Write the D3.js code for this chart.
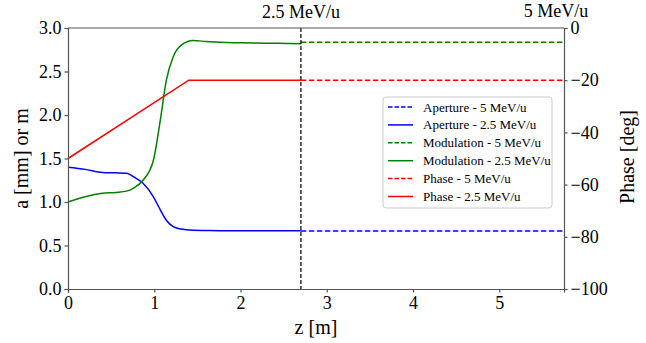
<!DOCTYPE html>
<html lang='en'>
<head>
  <meta charset='UTF-8'>
  <title>Aperture / Modulation / Phase</title>
  <style>
    body { margin: 0; background: #fff; }
    svg text { font-family: 'Liberation Serif', 'Times New Roman', serif !important; }
  </style>
</head>
<body>
  <script src='https://cdn.jsdelivr.net/npm/d3@7/dist/d3.min.js'></script>
  <script>
// data
const zSolid = [0, 0.2, 0.4, 0.55, 0.68, 0.76, 0.87, 0.99, 1.07, 1.14, 1.22, 1.31, 1.45, 1.6, 1.76, 2.0, 2.3, 2.7];
const modulation25 = [1.0, 1.06, 1.10, 1.11, 1.125, 1.16, 1.25, 1.48, 1.94, 2.40, 2.67, 2.80, 2.855, 2.845, 2.835, 2.83, 2.825, 2.82];
const aperture25 = [1.40, 1.375, 1.34, 1.335, 1.33, 1.29, 1.215, 1.06, 0.91, 0.79, 0.716, 0.69, 0.675, 0.672, 0.67, 0.67, 0.67, 0.67];
const zPhase = [0, 1.4, 2.7];
const phase25 = [-50, -20, -20];

const zDashed = [2.7, 5.75];
const aperture5 = [0.667, 0.667];
const modulation5 = [2.835, 2.835];
const phase5 = [-20, -20];

const zSplit = 2.7;
const xTicks = [0, 1, 2, 3, 4, 5];
const yTicks = [0, 0.5, 1.0, 1.5, 2.0, 2.5, 3.0];
const phaseTicks = [0, -20, -40, -60, -80, -100];

const legendLabels = ['Aperture - 5 MeV/u', 'Aperture - 2.5 MeV/u', 'Modulation - 5 MeV/u',
                      'Modulation - 2.5 MeV/u', 'Phase - 5 MeV/u', 'Phase - 2.5 MeV/u'];
const legendColors = ['blue', 'blue', 'green', 'green', 'red', 'red'];
const legendDashed = [true, false, true, false, true, false];

const width = 646, height = 343;
const mLeft = 68, mRight = 564, mTop = 28, mBottom = 289;
const axisColor = '#555';
const serif = "'Liberation Serif', 'Times New Roman', serif";

const svg = d3.select('body').append('svg')
    .attr('width', width)
    .attr('height', height);

const x = d3.scaleLinear().domain([0, 5.75]).range([mLeft, mRight]);
const y = d3.scaleLinear().domain([0, 3]).range([mBottom, mTop]);
const yPhase = d3.scaleLinear().domain([-100, 0]).range([mBottom, mTop]);

// lines
const line = (ys, sc, curve) => d3.line()
    .x(d => x(d))
    .y((d, i) => sc(ys[i]))
    .curve(curve);

function drawLine(zs, ys, sc, color, dashed, curve) {
  svg.append('path')
      .attr('d', line(ys, sc, curve || d3.curveLinear)(zs))
      .attr('fill', 'none')
      .attr('stroke', color)
      .attr('stroke-width', 1.5)
      .attr('stroke-dasharray', dashed ? '5.5,2.5' : null);
}

drawLine(zDashed, aperture5, y, 'blue', true);
drawLine(zSolid, aperture25, y, 'blue', false, d3.curveMonotoneX);
drawLine(zDashed, modulation5, y, 'green', true);
drawLine(zSolid, modulation25, y, 'green', false, d3.curveMonotoneX);
drawLine(zDashed, phase5, yPhase, 'red', true);
drawLine(zPhase, phase25, yPhase, 'red', false);

// vertical split line
svg.append('line')
    .attr('x1', x(zSplit)).attr('x2', x(zSplit))
    .attr('y1', mTop).attr('y2', mBottom)
    .attr('stroke', 'black')
    .attr('stroke-width', 1.2)
    .attr('stroke-dasharray', '4,2');

// axes
const gx = svg.append('g')
    .attr('transform', 'translate(0,' + mBottom + ')')
    .call(d3.axisBottom(x).tickValues(xTicks).tickFormat(d3.format('d')).tickSizeOuter(0).tickSize(3.5).tickPadding(4));
const gy = svg.append('g')
    .attr('transform', 'translate(' + mLeft + ',0)')
    .call(d3.axisLeft(y).tickValues(yTicks).tickFormat(d3.format('.1f')).tickSizeOuter(0).tickSize(3.5).tickPadding(3));
const gyr = svg.append('g')
    .attr('transform', 'translate(' + mRight + ',0)')
    .call(d3.axisRight(yPhase).tickValues(phaseTicks).tickFormat(d => d < 0 ? '\u2212' + Math.abs(d) : d).tickSizeOuter(0).tickSize(3.5).tickPadding(3));

[gx, gy, gyr].forEach(g => {
  g.attr('font-family', serif);
  g.select('.domain').attr('stroke', axisColor).attr('stroke-width', 1.2);
  g.selectAll('.tick line').attr('stroke', axisColor).attr('stroke-width', 1.2);
  g.selectAll('.tick text').attr('font-size', 18).attr('fill', 'black')
      .style('font-family', serif);
});

// top spine
svg.append('line')
    .attr('x1', mLeft).attr('x2', mRight)
    .attr('y1', mTop).attr('y2', mTop)
    .attr('stroke', axisColor).attr('stroke-width', 1.2);

// axis labels
svg.append('text')
    .attr('x', (mLeft + mRight) / 2).attr('y', 334)
    .attr('text-anchor', 'middle').attr('font-size', 20)
    .style('font-family', serif)
    .text('z [m]');
svg.append('text')
    .attr('transform', 'translate(28,' + (mTop + mBottom) / 2 + ') rotate(-90)')
    .attr('text-anchor', 'middle').attr('font-size', 20)
    .style('font-family', serif)
    .text('a [mm] or m');
svg.append('text')
    .attr('transform', 'translate(634,157) rotate(-90)')
    .attr('text-anchor', 'middle').attr('font-size', 20)
    .style('font-family', serif)
    .text('Phase [deg]');

// top labels
svg.append('text')
    .attr('x', x(zSplit)).attr('y', 18)
    .attr('text-anchor', 'middle').attr('font-size', 18)
    .style('font-family', serif)
    .text('2.5 MeV/u');
svg.append('text')
    .attr('x', 556).attr('y', 17)
    .attr('text-anchor', 'middle').attr('font-size', 18)
    .style('font-family', serif)
    .text('5 MeV/u');

// legend
const legend = svg.append('g').attr('transform', 'translate(383,97)');
legend.append('rect')
    .attr('width', 169).attr('height', 111)
    .attr('rx', 3)
    .attr('fill', 'white').attr('fill-opacity', 0.8)
    .attr('stroke', '#ccc');
const items = legend.selectAll('g.item')
    .data(legendLabels)
    .enter().append('g')
    .attr('transform', (d, i) => 'translate(0,' + (10 + i * 17.9) + ')');
items.append('line')
    .attr('x1', 5).attr('x2', 30)
    .attr('stroke', (d, i) => legendColors[i])
    .attr('stroke-width', 1.5)
    .attr('stroke-dasharray', (d, i) => legendDashed[i] ? '4.5,2' : null);
items.append('text')
    .attr('x', 40).attr('y', 4.5)
    .attr('font-size', 13)
    .style('font-family', serif)
    .text(d => d);
  </script>
</body>
</html>
